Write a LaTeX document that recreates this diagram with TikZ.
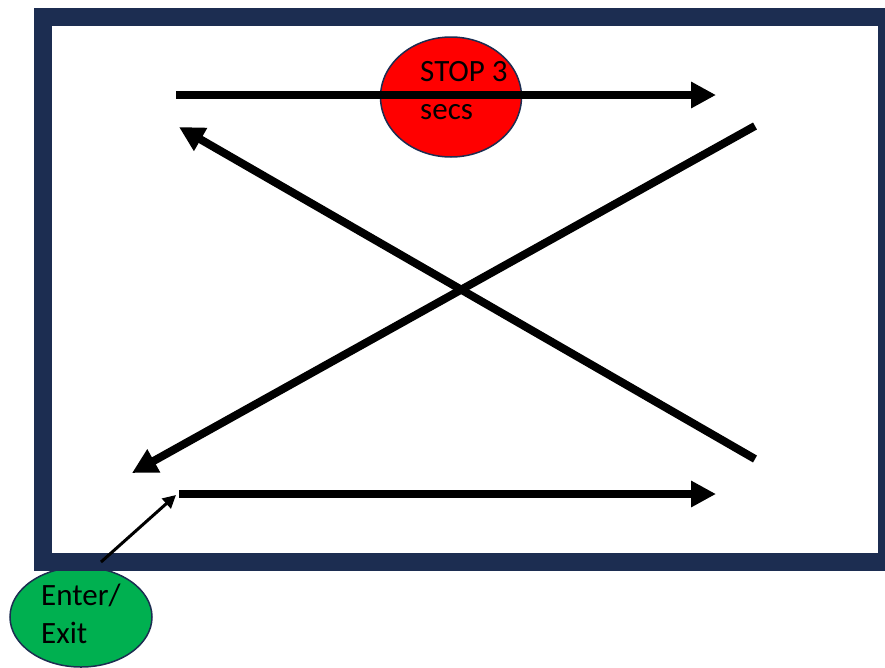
\documentclass[tikz,border=0pt]{standalone}
\usepackage{fontspec}
\setmainfont{Carlito}
\usepackage{xcolor}
\usetikzlibrary{
    arrows.meta,
    shapes.geometric,
    positioning
}
\definecolor{framenavy}{RGB}{28,45,81}
\definecolor{stopred}{RGB}{255,0,0}
\definecolor{exitgreen}{RGB}{0,176,80}
\tikzset{
    bigarrow/.style={line width=8pt, -{Triangle[length=25pt, width=25pt]}},
    thinarrow/.style={line width=3pt, -{Triangle[length=13pt, width=13pt]}},
    marker/.style={ellipse, draw=framenavy, line width=1.5pt, inner sep=0pt},
    marktext/.style={align=left, anchor=north west, inner sep=0pt,
        font=\fontsize{31}{38}\selectfont}
}

\begin{document}
\begin{tikzpicture}[x=1pt, y=-1pt]
                                \useasboundingbox (0,0) rectangle (885,667);
                                \node[marker, fill=exitgreen, minimum width=142pt, minimum height=100pt] (door) at (81,617) {};
                                \draw[framenavy, line width=18pt] (43,17) rectangle (887,562);
                                \node[marker, fill=stopred, minimum width=141pt, minimum height=120pt] (stop) at (451,97) {};
                                \coordinate (topl) at (176,95);
                                \coordinate (topr) at (716,95);
                                \coordinate (upr) at (755,126);
                                \coordinate (upl) at (179,127);
                                \coordinate (lowr) at (755,459);
                                \coordinate (lowl) at (132,473);
                                \coordinate (botl) at (179,494);
                                \coordinate (botr) at (716,494);
                                \coordinate (doortop) at (101,562);
                                \draw
                                (topl) edge[bigarrow] (topr)
                                (upr) edge[bigarrow] (lowl)
                                (lowr) edge[bigarrow] (upl)
                                (botl) edge[bigarrow] (botr)
                                (doortop) edge[thinarrow] (176,495);
                                \node[marktext] (stoptxt) at (420,61) {STOP 3\\secs};
                                \node[marktext] (doortxt) at (41,584) {Enter/\\Exit};
                            \end{tikzpicture}
\end{document}
